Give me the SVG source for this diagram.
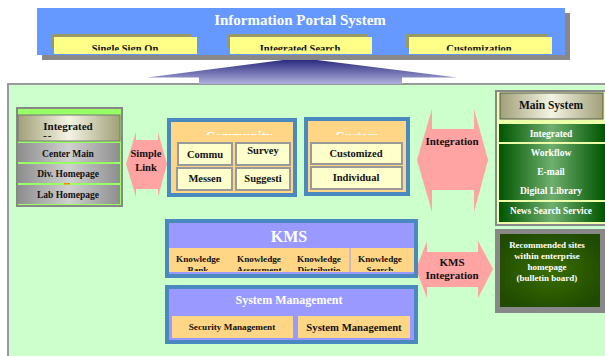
<svg xmlns="http://www.w3.org/2000/svg" width="605" height="356" viewBox="0 0 605 356">
<defs>
<style>
text{font-family:"Liberation Serif","DejaVu Serif",serif;font-weight:bold;text-anchor:middle}
.w{fill:#fff}
.k{fill:#111}
.blueb{fill:#4A88C0}
.lav{fill:#9999FF}
.org{fill:#FFD686}
.sub{fill:#FFFFCC;stroke:#999;stroke-width:2}
.arrow{fill:#FFA3A3}
.olive{fill:#999966}
.tab{fill:#FFFF88}
</style>
<linearGradient id="funnel" x1="0" y1="0" x2="0" y2="1">
<stop offset="0" stop-color="#2B2B80"/>
<stop offset="1" stop-color="#B0B0DD"/>
</linearGradient>
<linearGradient id="grayrow" x1="0" y1="0" x2="1" y2="0">
<stop offset="0" stop-color="#8E8E8E"/>
<stop offset="0.5" stop-color="#D0D0D0"/>
<stop offset="1" stop-color="#8E8E8E"/>
</linearGradient>
<linearGradient id="hdr" x1="0" y1="0" x2="1" y2="0">
<stop offset="0" stop-color="#A0A078"/>
<stop offset="0.5" stop-color="#F4F4E4"/>
<stop offset="1" stop-color="#A0A078"/>
</linearGradient>
<linearGradient id="greenrow" x1="0" y1="0" x2="1" y2="0">
<stop offset="0" stop-color="#005500"/>
<stop offset="0.5" stop-color="#6FAF6F"/>
<stop offset="1" stop-color="#005500"/>
</linearGradient>
<radialGradient id="rec" cx="0.5" cy="0.5" r="0.6">
<stop offset="0" stop-color="#3A6E00"/>
<stop offset="1" stop-color="#1F4A00"/>
</radialGradient>
<clipPath id="cTab"><rect x="0" y="0" width="605" height="50.5"/></clipPath>
<clipPath id="cHdr1"><rect x="0" y="0" width="605" height="137"/></clipPath>
<clipPath id="cComm"><rect x="0" y="0" width="605" height="135"/></clipPath>
<clipPath id="cKnow"><rect x="0" y="0" width="605" height="271"/></clipPath>
</defs>

<rect width="605" height="356" fill="#fff"/>

<!-- green background panel -->
<g id="panel">
<rect x="7" y="83" width="600" height="280" fill="#CCFFCC"/>
<rect x="7" y="83" width="600" height="2" fill="#999"/>
<rect x="7" y="83" width="2" height="280" fill="#999"/>
</g>

<!-- top portal box -->
<g id="portal">
<rect x="42" y="13" width="528" height="47" fill="#888"/>
<rect x="37" y="8" width="528" height="47" fill="#6699FF"/>
<text x="300" y="25" class="w" font-size="15">Information Portal System</text>
</g>
<g id="tab-sso">
<rect x="51" y="34" width="141" height="14" class="olive"/>
<rect x="54" y="37" width="143" height="17" class="tab"/>
<text x="125" y="51.5" class="k" font-size="10.5" clip-path="url(#cTab)">Single Sign On</text>
</g>
<g id="tab-search">
<rect x="227" y="34" width="141" height="14" class="olive"/>
<rect x="230" y="37" width="142" height="17" class="tab"/>
<text x="300" y="51.5" class="k" font-size="10.5" clip-path="url(#cTab)">Integrated Search</text>
</g>
<g id="tab-custom">
<rect x="406" y="34" width="142" height="14" class="olive"/>
<rect x="409" y="37" width="143" height="17" class="tab"/>
<text x="479" y="51.5" class="k" font-size="10.5" clip-path="url(#cTab)">Customization</text>
</g>

<!-- connectors -->
<g id="connectors">
<polygon points="283,60 317,60 457,77.5 402,77.5 402,84 199,84 199,77.5 147,77.5" fill="url(#funnel)"/>
<polygon class="arrow" points="126,164 136,132 136,140 158,140 158,132 167,164 158,197 158,189 136,189 136,197"/>
<polygon class="arrow" points="417,160 432,109 432,129 474,129 474,109 488,160 474,212 474,190 432,190 432,212"/>
<polygon class="arrow" points="416,269 427,241 427,252 478,252 478,241 493,269 478,298 478,287 427,287 427,298"/>
<text x="146" y="157" class="k" font-size="10.5">Simple</text>
<text x="146" y="171" class="k" font-size="10.5">Link</text>
<text x="452" y="145" class="k" font-size="11">Integration</text>
<text x="452" y="266" class="k" font-size="11">KMS</text>
<text x="452" y="279" class="k" font-size="11">Integration</text>
</g>

<!-- left integrated homepage panel -->
<g id="integrated-homepage">
<rect x="16" y="107" width="107" height="100" fill="#888"/>
<rect x="18" y="109" width="103" height="96" fill="#99FF66"/>
<rect x="18" y="115" width="102" height="26" fill="url(#hdr)" stroke="#777" stroke-width="1"/>
<text x="68" y="130" class="k" font-size="11">Integrated</text>
<text x="68" y="142.5" class="k" font-size="11" clip-path="url(#cHdr1)">Homepage</text>
<rect x="18" y="143" width="102" height="19" fill="url(#grayrow)"/>
<text x="68" y="157" class="k" font-size="9.5">Center Main</text>
<rect x="18" y="164" width="102" height="19" fill="url(#grayrow)"/>
<text x="68" y="177" class="k" font-size="9.5">Div. Homepage</text>
<rect x="64" y="183" width="6" height="1.5" fill="#FF8800"/>
<rect x="18" y="185" width="102" height="19" fill="url(#grayrow)"/>
<text x="68" y="198" class="k" font-size="9.5">Lab Homepage</text>
</g>

<!-- community box -->
<g id="community">
<rect x="167" y="118" width="130" height="79" class="blueb"/>
<rect x="171" y="122" width="122" height="71" class="org"/>
<text x="239" y="140" class="w" font-size="13" clip-path="url(#cComm)">Community</text>
<rect x="178" y="143" width="54" height="22" class="sub"/>
<text x="205" y="158" class="k" font-size="10.5">Commu</text>
<rect x="236" y="143" width="54" height="22" class="sub"/>
<text x="263" y="154" class="k" font-size="10.5">Survey</text>
<rect x="177" y="168" width="55" height="22" class="sub"/>
<text x="205" y="182" class="k" font-size="10.5">Messen</text>
<rect x="236" y="168" width="54" height="22" class="sub"/>
<text x="263" y="182" class="k" font-size="10.5">Suggesti</text>
</g>

<!-- customization box -->
<g id="customization">
<rect x="304" y="117" width="106" height="79" class="blueb"/>
<rect x="308" y="121" width="98" height="71" class="org"/>
<text x="357" y="140" class="w" font-size="13" clip-path="url(#cComm)">Custom</text>
<rect x="311" y="143" width="91" height="21" class="sub"/>
<text x="356" y="157" class="k" font-size="10.5">Customized</text>
<rect x="311" y="167" width="91" height="22" class="sub"/>
<text x="356" y="181" class="k" font-size="10.5">Individual</text>
</g>

<!-- main system -->
<g id="main-system">
<rect x="495" y="90" width="112" height="136" fill="#888"/>
<rect x="497" y="92" width="110" height="132" fill="#EEFFAA"/>
<rect x="500" y="93" width="103" height="26" fill="url(#hdr)" stroke="#555" stroke-width="1"/>
<text x="551" y="109" class="k" font-size="11.5">Main System</text>
<rect x="499" y="124" width="106" height="18" fill="url(#greenrow)"/>
<text x="551" y="137" class="w" font-size="9.5">Integrated</text>
<rect x="499" y="144" width="106" height="56" fill="url(#greenrow)"/>
<text x="551" y="156" class="w" font-size="9.5">Workflow</text>
<text x="551" y="175" class="w" font-size="9.5">E-mail</text>
<text x="551" y="194" class="w" font-size="9.5">Digital Library</text>
<rect x="499" y="202" width="106" height="20" fill="url(#greenrow)"/>
<text x="551" y="214" class="w" font-size="9.3">News Search Service</text>
</g>

<!-- recommended sites -->
<g id="recommended">
<rect x="495" y="229" width="112" height="84" fill="#888"/>
<rect x="500" y="234" width="100" height="73" fill="url(#rec)"/>
<text x="547" y="248" class="w" font-size="9">Recommended sites</text>
<text x="547" y="259" class="w" font-size="9">within enterprise</text>
<text x="547" y="270" class="w" font-size="9">homepage</text>
<text x="547" y="281" class="w" font-size="9">(bulletin board)</text>
</g>

<!-- KMS -->
<g id="kms">
<rect x="165" y="219" width="253" height="59" class="blueb"/>
<rect x="169" y="223" width="245" height="51" class="lav"/>
<text x="289" y="242" class="w" font-size="16">KMS</text>
<rect x="169" y="248" width="245" height="24" class="org"/>
<rect x="349.5" y="248" width="1" height="24" fill="#9999FF"/>
<g font-size="9.2" class="k">
<text x="198" y="262">Knowledge</text>
<text x="259" y="262">Knowledge</text>
<text x="319" y="262">Knowledge</text>
<text x="380" y="262">Knowledge</text>
<g clip-path="url(#cKnow)">
<text x="198" y="273">Bank</text>
<text x="259" y="273">Assessment</text>
<text x="319" y="273">Distributio</text>
<text x="380" y="273">Search</text>
</g>
</g>
</g>

<!-- system management -->
<g id="system-management">
<rect x="165" y="285" width="253" height="59" class="blueb"/>
<rect x="169" y="289" width="245" height="51" class="lav"/>
<text x="289" y="304" class="w" font-size="12">System Management</text>
<rect x="172" y="316" width="121" height="22" class="org"/>
<text x="232" y="330" class="k" font-size="9.2">Security Management</text>
<rect x="298" y="316" width="112" height="22" class="org"/>
<text x="354" y="331" class="k" font-size="10.7">System Management</text>
</g>
</svg>
